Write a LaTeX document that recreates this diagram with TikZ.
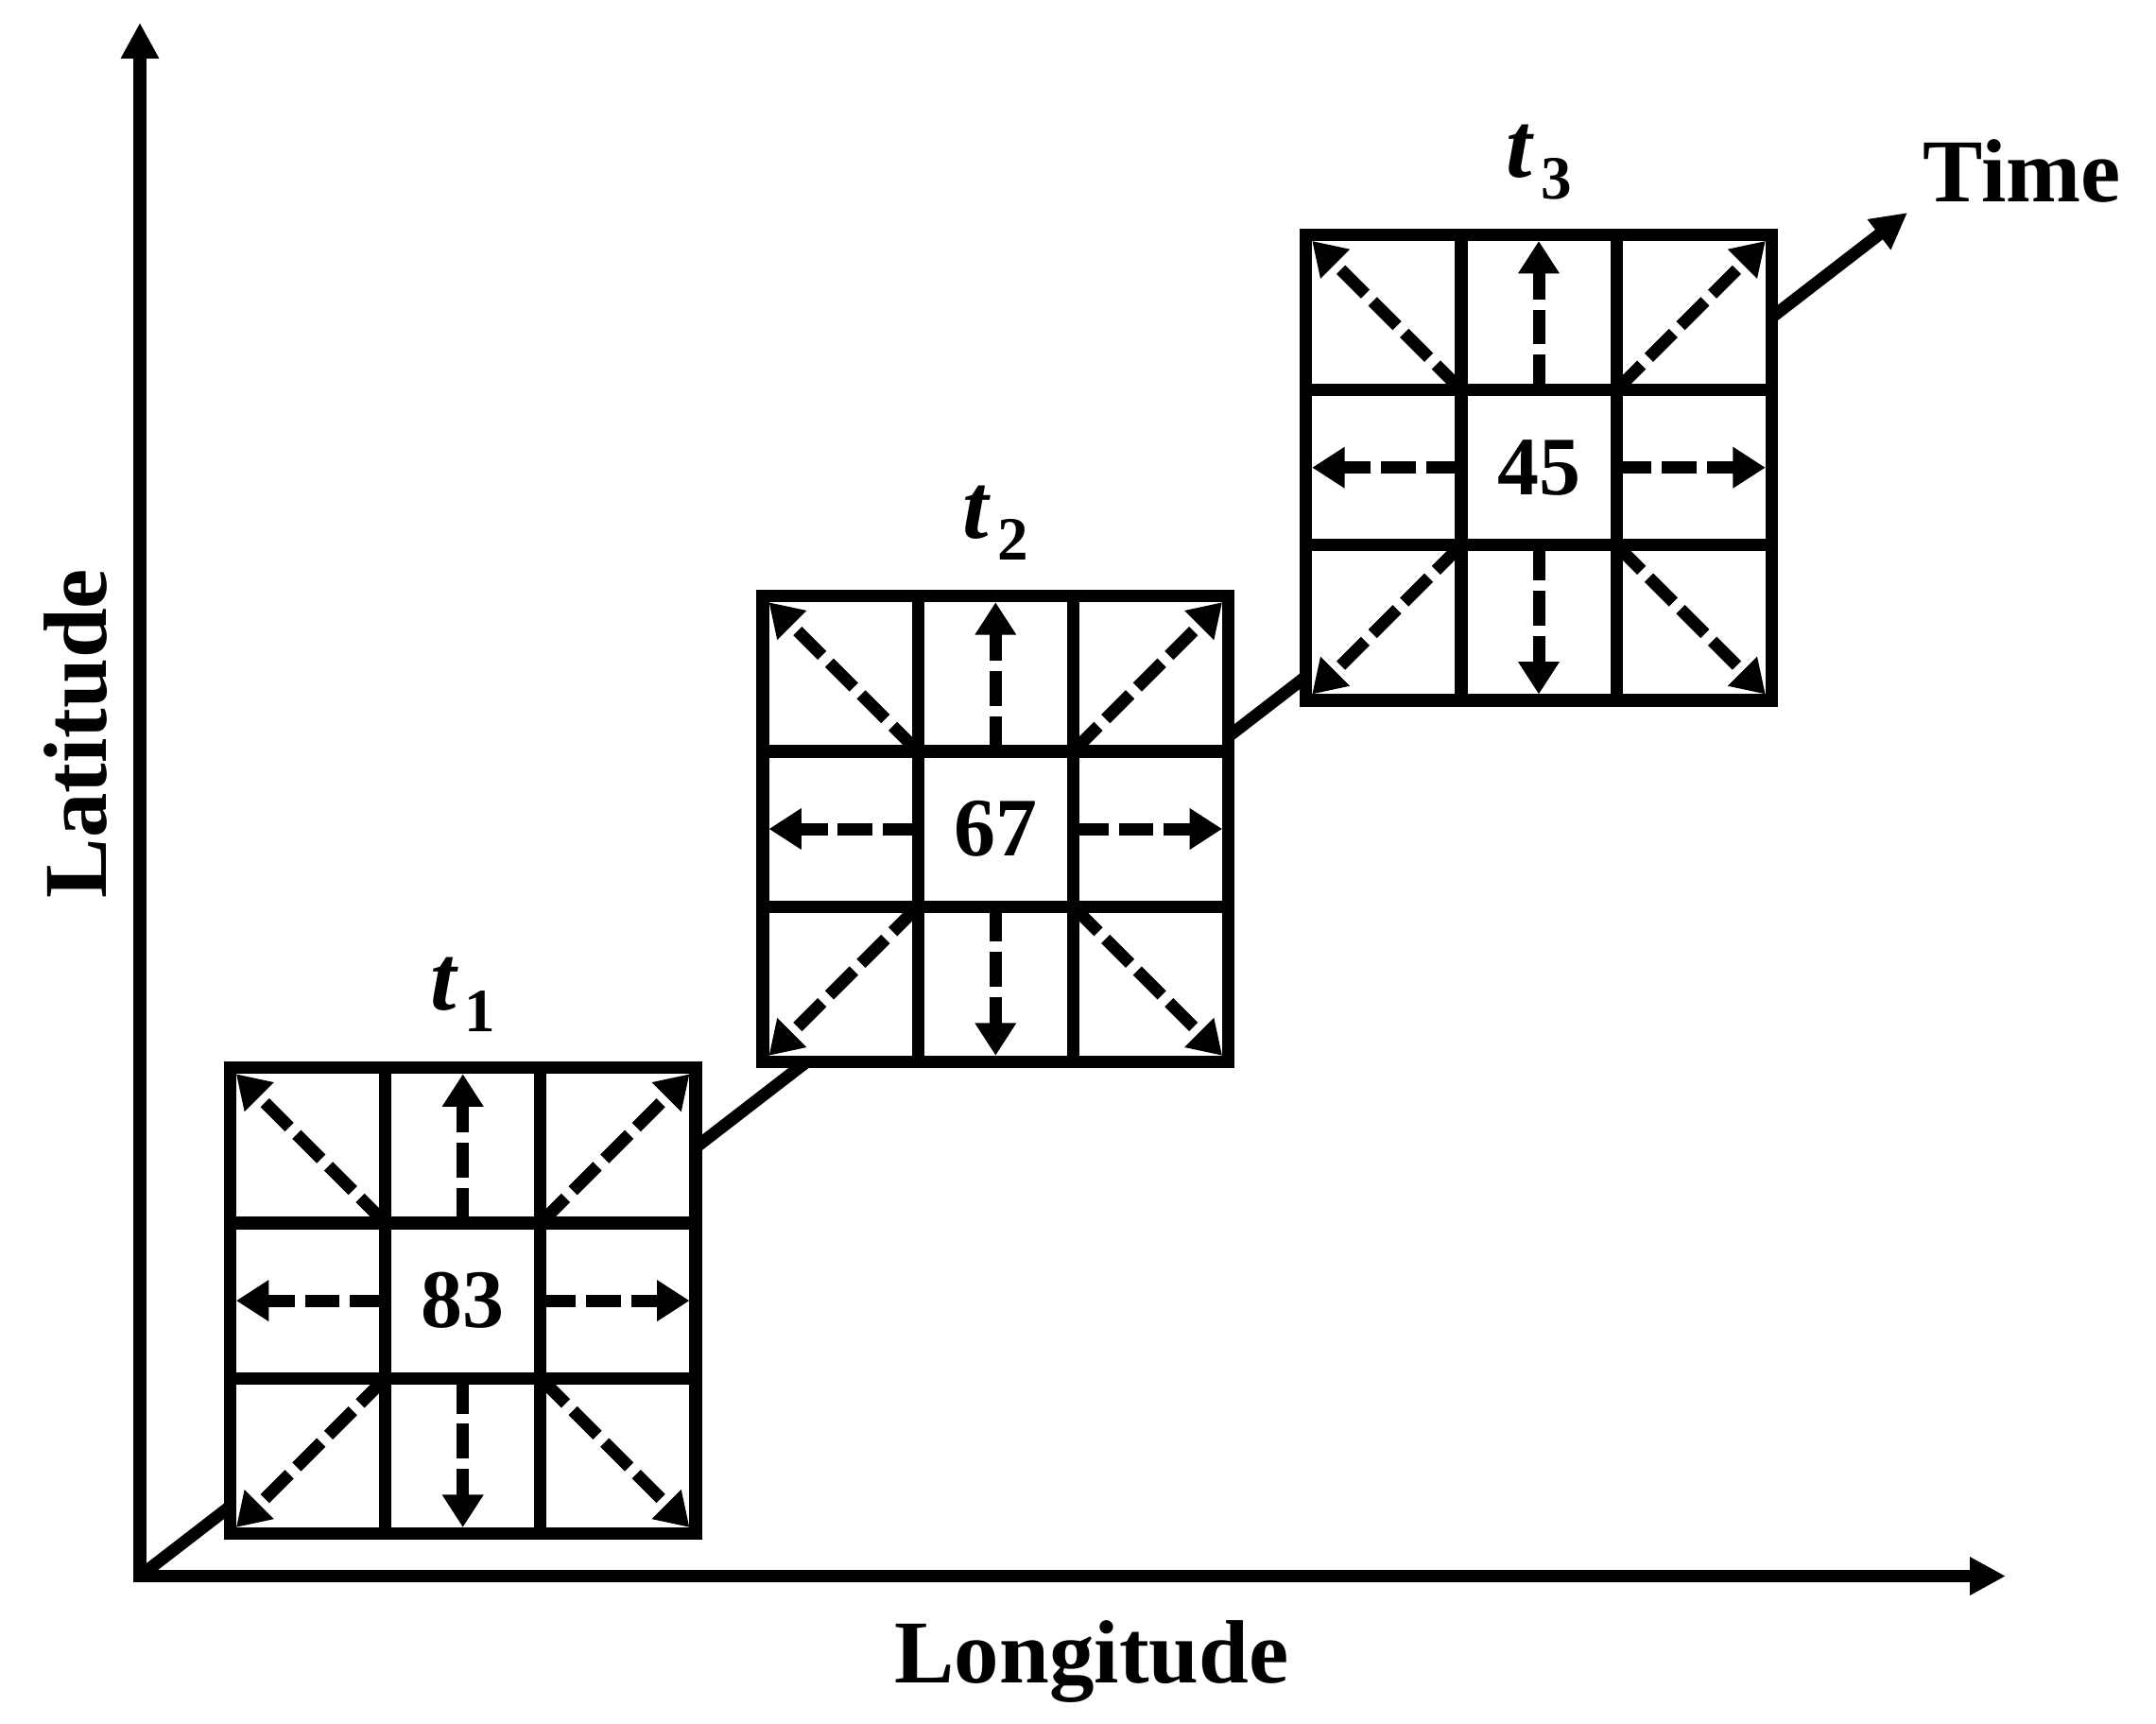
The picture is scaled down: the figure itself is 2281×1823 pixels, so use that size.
\documentclass[tikz,border=0pt]{standalone}
\usepackage{fontspec}
\setmainfont{Liberation Serif}
\usetikzlibrary{arrows.meta}
\begin{document}
\begin{tikzpicture}[x=0.01cm,y=-0.01cm,
  axisline/.style={line width=3.7pt, line join=miter},
  bigtip/.style={-{Triangle[length=10.8pt,width=10.8pt]}},
  gridline/.style={line width=3.75pt, line join=miter, line cap=rect},
  dasharrow/.style={line width=3.7pt, dash pattern=on 10.4pt off 3.1pt, -{Triangle[length=9.8pt,width=11.8pt]}},
  numlabel/.style={font=\fontsize{25pt}{27pt}\selectfont\bfseries, inner sep=0pt, minimum size=1.642cm},
  axislabel/.style={font=\fontsize{27pt}{29pt}\selectfont\bfseries, inner sep=0pt},
  tlabel/.style={font=\fontsize{28pt}{30pt}\selectfont\bfseries, inner sep=0pt, anchor=base},
]
\fill[white] (0,0) rectangle (2281,1823);
\useasboundingbox (0,0) rectangle (2281,1823);

% axes
\coordinate (O) at (148,1667.5);
\coordinate (Ytip) at (148,24);
\coordinate (Xtip) at (2122,1667.5);
\coordinate (Ttip) at (2018,225);
\draw[axisline, {Triangle[length=10.8pt,width=10.8pt]}-{Triangle[length=10.8pt,width=10.8pt]}] (Ytip) -- (O) -- (Xtip);
\draw[axisline, bigtip] (O) -- (Ttip);

% grids
\def\c{164.2}
\def\h{6.5}
\foreach \X/\Y/\n/\v in {243.4/1129.8/1/83, 807/630.7/2/67, 1381.7/248.4/3/45}{
  \fill[white] (\X,\Y) rectangle (\X+3*\c,\Y+3*\c);
  \node[numlabel] (c\n) at (\X+1.5*\c,\Y+1.5*\c) {\v};
  \coordinate (nw\n) at (\X+\h,\Y+\h);
  \coordinate (n\n)  at (\X+1.5*\c,\Y+\h);
  \coordinate (ne\n) at (\X+3*\c-\h,\Y+\h);
  \coordinate (w\n)  at (\X+\h,\Y+1.5*\c);
  \coordinate (e\n)  at (\X+3*\c-\h,\Y+1.5*\c);
  \coordinate (sw\n) at (\X+\h,\Y+3*\c-\h);
  \coordinate (s\n)  at (\X+1.5*\c,\Y+3*\c-\h);
  \coordinate (se\n) at (\X+3*\c-\h,\Y+3*\c-\h);
  \draw[dasharrow] (c\n.north west) -- (nw\n);
  \draw[dasharrow] (c\n.north) -- (n\n);
  \draw[dasharrow] (c\n.north east) -- (ne\n);
  \draw[dasharrow] (c\n.west) -- (w\n);
  \draw[dasharrow] (c\n.east) -- (e\n);
  \draw[dasharrow] (c\n.south west) -- (sw\n);
  \draw[dasharrow] (c\n.south) -- (s\n);
  \draw[dasharrow] (c\n.south east) -- (se\n);
  \draw[gridline] (\X,\Y) rectangle (\X+3*\c,\Y+3*\c);
  \draw[gridline] (\X+\c,\Y) -- (\X+\c,\Y+3*\c);
  \draw[gridline] (\X+2*\c,\Y) -- (\X+2*\c,\Y+3*\c);
  \draw[gridline] (\X,\Y+\c) -- (\X+3*\c,\Y+\c);
  \draw[gridline] (\X,\Y+2*\c) -- (\X+3*\c,\Y+2*\c);
  \node[tlabel] (t\n) at (\X+1.5*\c,\Y-61) {\textit{t}\hspace{2pt}\raisebox{-6.5pt}{\fontsize{18.5pt}{20pt}\selectfont\bfseries \n}};
}

% labels
\node[axislabel, anchor=base] (time) at (2139,213) {Time};
\node[axislabel, anchor=base] (lon) at (1155,1780) {Longitude};
\node[axislabel, anchor=base, rotate=90] (lat) at (113,776) {Latitude};
\end{tikzpicture}
\end{document}
